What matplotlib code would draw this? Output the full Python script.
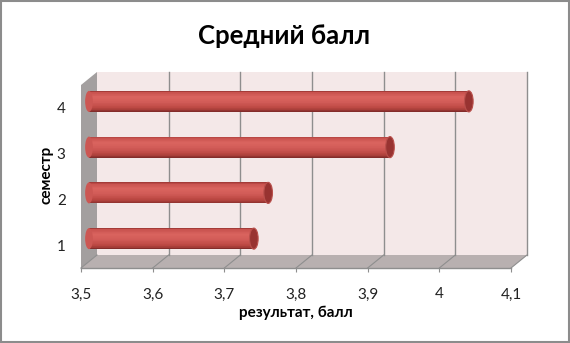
import matplotlib
matplotlib.use('Agg')
import matplotlib.pyplot as plt
from matplotlib.patches import Polygon, Ellipse
from matplotlib.colors import LinearSegmentedColormap

# data
semesters = [1, 2, 3, 4]
scores = [3.73, 3.75, 3.92, 4.03]
xticks = [3.5, 3.6, 3.7, 3.8, 3.9, 4.0, 4.1]
xticklabels = ['3,5', '3,6', '3,7', '3,8', '3,9', '4', '4,1']
title = 'Средний балл'
xlabel = 'результат, балл'
ylabel = 'семестр'

plt.rcParams['font.family'] = ['Lato', 'DejaVu Sans']

fig = plt.figure(figsize=(5.7, 3.43), dpi=100)
ax = fig.add_axes([81 / 570, 75 / 343, 430 / 570, 183 / 343])
xmin, xmax = 3.5, 4.1
ymin, ymax = 0.5, 4.5
ax.set_xlim(xmin, xmax)
ax.set_ylim(ymin, ymax)
ax.set_autoscale_on(False)
for s in ax.spines.values():
    s.set_visible(False)
ax.patch.set_visible(False)

# depth offset of the back wall, in data units (16 px right, 13 px up)
dx = 16 * (xmax - xmin) / 430
dy = 13 * (ymax - ymin) / 183

def wall(points, color):
    ax.add_patch(Polygon(points, closed=True, facecolor=color, edgecolor='none',
                         zorder=0, clip_on=False))

# back wall, floor, left wall
wall([(xmin + dx, ymin + dy), (xmax + dx, ymin + dy), (xmax + dx, ymax + dy), (xmin + dx, ymax + dy)], '#f4e8e8')
wall([(xmin, ymin), (xmax, ymin), (xmax + dx, ymin + dy), (xmin + dx, ymin + dy)], '#b8b0b0')
wall([(xmin, ymin), (xmin + dx, ymin + dy), (xmin + dx, ymax + dy), (xmin, ymax)], '#a39f9f')

# grid lines on back wall and floor
for xv in xticks[1:]:
    ax.plot([xv + dx, xv + dx], [ymin + dy, ymax + dy], color='#8e8e8e', lw=1.0, zorder=1, clip_on=False)
for xv in xticks:
    ax.plot([xv, xv + dx], [ymin, ymin + dy], color='#8e8e8e', lw=0.8, zorder=1, clip_on=False)
ax.plot([xmin, xmax], [ymin, ymin], color='#8e8e8e', lw=1.0, zorder=2, clip_on=False)

# cylinders (sitting at mid depth), shaded top -> bottom
mx, my = dx / 2, dy / 2
bar_h = 0.46
shade = LinearSegmentedColormap.from_list('cyl', [
    (0.0, '#9a3532'), (0.07, '#c8524e'), (0.3, '#da645f'), (0.55, '#d15b57'),
    (0.8, '#bc4843'), (0.93, '#a03a36'), (1.0, '#7a2826')])
n = 30
cap_w = 0.012
for yv, val in zip(semesters, scores):
    yc = yv + my
    for k in range(n):
        y0 = yc + bar_h / 2 - (k + 1) * bar_h / n
        ax.barh(y0, val - xmin, left=xmin + mx, height=bar_h / n * 1.05, align='edge',
                color=shade((k + 0.5) / n), edgecolor='none', zorder=3, clip_on=False)
    ax.add_patch(Ellipse((xmin + mx, yc), cap_w * 0.9, bar_h, facecolor='#cc5753',
                         edgecolor='none', zorder=3, clip_on=False))
    ax.add_patch(Ellipse((val + mx, yc), cap_w, bar_h, facecolor='#983331',
                         edgecolor='#b9504c', lw=0.8, zorder=4, clip_on=False))

ax.set_xticks(xticks)
ax.set_xticklabels(xticklabels)
ax.set_yticks(semesters)
ax.set_yticklabels([str(s) for s in semesters])
ax.tick_params(axis='x', length=3, color='#8e8e8e', pad=11, labelsize=11, labelcolor='#222222')
ax.tick_params(axis='y', length=0, pad=11, labelsize=11, labelcolor='#222222')

fig.text(296 / 570, 1 - 313 / 343, xlabel, ha='center', va='center', fontsize=11, fontweight='bold')
fig.text(46 / 570, 1 - 175 / 343, ylabel, ha='center', va='center', rotation=90, fontsize=11, fontweight='bold')
fig.text(284 / 570, 1 - 36 / 343, title, ha='center', va='center', fontsize=18.5, fontweight='bold')

# outer chart border
fig.patches.append(Polygon([[0.002, 0.003], [0.998, 0.003], [0.998, 0.997], [0.002, 0.997]],
                           closed=True, transform=fig.transFigure, facecolor='none',
                           edgecolor='#8c8c8c', lw=1.5))

fig.savefig('out.png', dpi=100, facecolor='white')
